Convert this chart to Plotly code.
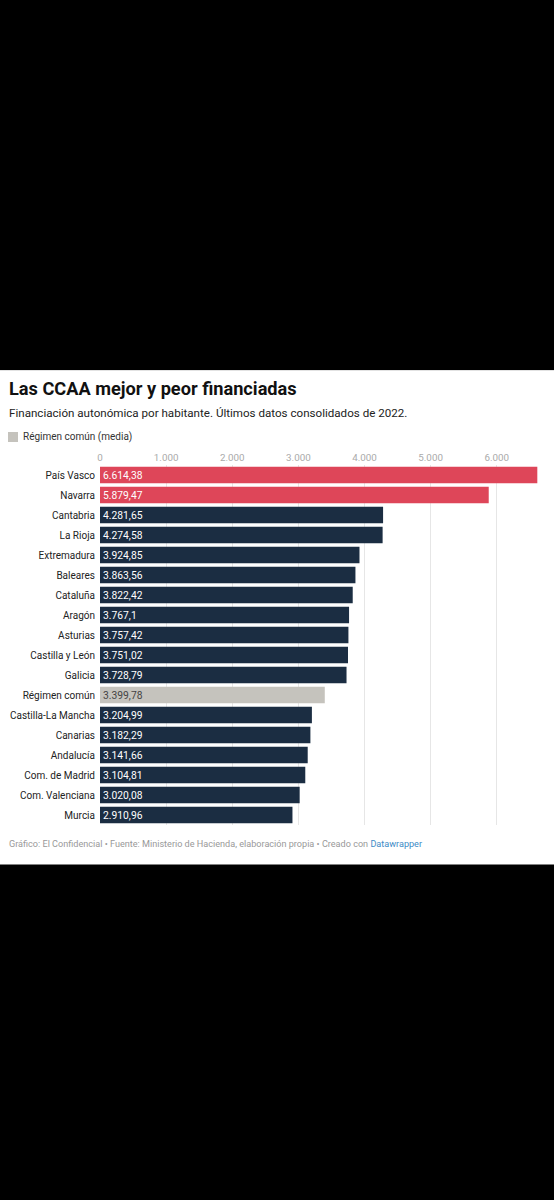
import plotly.graph_objects as go

regions = ["País Vasco", "Navarra", "Cantabria", "La Rioja", "Extremadura", "Baleares",
           "Cataluña", "Aragón", "Asturias", "Castilla y León", "Galicia", "Régimen común",
           "Castilla-La Mancha", "Canarias", "Andalucía", "Com. de Madrid",
           "Com. Valenciana", "Murcia"]
values = [6614.38, 5879.47, 4281.65, 4274.58, 3924.85, 3863.56, 3822.42, 3767.1,
          3757.42, 3751.02, 3728.79, 3399.78, 3204.99, 3182.29, 3141.66, 3104.81,
          3020.08, 2910.96]
value_labels = ["6.614,38", "5.879,47", "4.281,65", "4.274,58", "3.924,85", "3.863,56",
                "3.822,42", "3.767,1", "3.757,42", "3.751,02", "3.728,79", "3.399,78",
                "3.204,99", "3.182,29", "3.141,66", "3.104,81", "3.020,08", "2.910,96"]
tick_vals = [0, 1000, 2000, 3000, 4000, 5000, 6000]
tick_text = ["0", "1.000", "2.000", "3.000", "4.000", "5.000", "6.000"]

RED = "#de4659"
NAVY = "#1b2d42"
GREY = "#c5c3bd"

colors = []
text_colors = []
for r in regions:
    if r in ("País Vasco", "Navarra"):
        colors.append(RED); text_colors.append("#ffffff")
    elif r == "Régimen común":
        colors.append(GREY); text_colors.append("#444444")
    else:
        colors.append(NAVY); text_colors.append("#ffffff")

W, H = 554, 1200
ML, MR, MT, MB = 100, 14, 465, 375
PW = W - ML - MR
PH = H - MT - MB

def px_x(x):
    return (x - ML) / PW

def px_y(y):
    return (H - MB - y) / PH

fig = go.Figure()
fig.add_trace(go.Bar(
    y=regions, x=values, orientation="h",
    marker=dict(color=colors, line=dict(width=0)),
    text=value_labels, textposition="inside", insidetextanchor="start",
    textfont=dict(family="Roboto", size=10.3, color=text_colors),
    constraintext="none", cliponaxis=False, hoverinfo="skip",
))

shapes = [
    dict(type="rect", xref="paper", yref="paper", x0=px_x(0), x1=px_x(W),
         y0=px_y(864.5), y1=px_y(370), fillcolor="#ffffff", line=dict(width=0), layer="below"),
    dict(type="line", xref="paper", yref="paper", x0=px_x(0), x1=px_x(W),
         y0=px_y(370.5), y1=px_y(370.5), line=dict(color="#e2e2e2", width=1), layer="below"),
    dict(type="rect", xref="paper", yref="paper", x0=px_x(8), x1=px_x(18),
         y0=px_y(442), y1=px_y(432), fillcolor=GREY, line=dict(width=0)),
]

annotations = [
    dict(text="Las CCAA mejor y peor financiadas", xref="paper", yref="paper",
         x=px_x(7), y=px_y(388), xanchor="left", yanchor="middle", showarrow=False,
         font=dict(family="Roboto", size=18.2, color="#111111", weight=700)),
    dict(text="Financiación autonómica por habitante. Últimos datos consolidados de 2022.",
         xref="paper", yref="paper", x=px_x(7), y=px_y(413), xanchor="left", yanchor="middle",
         showarrow=False, font=dict(family="Roboto", size=11.6, color="#222222")),
    dict(text="Régimen común (media)", xref="paper", yref="paper", x=px_x(21), y=px_y(437),
         xanchor="left", yanchor="middle", showarrow=False,
         font=dict(family="Roboto", size=10, color="#333333")),
    dict(text="Gráfico: El Confidencial • Fuente: Ministerio de Hacienda, elaboración propia • Creado con "
              "<span style='color:#3d8bc6'>Datawrapper</span>",
         xref="paper", yref="paper", x=px_x(7), y=px_y(844), xanchor="left", yanchor="middle",
         showarrow=False, font=dict(family="Roboto", size=9.1, color="#999999")),
]

fig.update_layout(
    width=W, height=H,
    margin=dict(l=ML, r=MR, t=MT, b=MB, pad=0, autoexpand=False),
    paper_bgcolor="#000000", plot_bgcolor="#ffffff",
    bargap=0.17, showlegend=False,
    shapes=shapes, annotations=annotations,
    xaxis=dict(range=[0, 6655], side="top", tickvals=tick_vals, ticktext=tick_text,
               showgrid=True, gridcolor="#e6e6e6", gridwidth=1, zeroline=False,
               showline=False, ticks="", ticklabelstandoff=1, automargin=False,
               tickfont=dict(family="Roboto", size=9.8, color="#aaaaaa"), fixedrange=True),
    yaxis=dict(autorange="reversed", showgrid=False, zeroline=False, showline=False,
               ticks="", ticklabelstandoff=4, automargin=False,
               tickfont=dict(family="Roboto", size=10, color="#222222"), fixedrange=True),
)

fig.write_html("out.html", config={"displayModeBar": False})
